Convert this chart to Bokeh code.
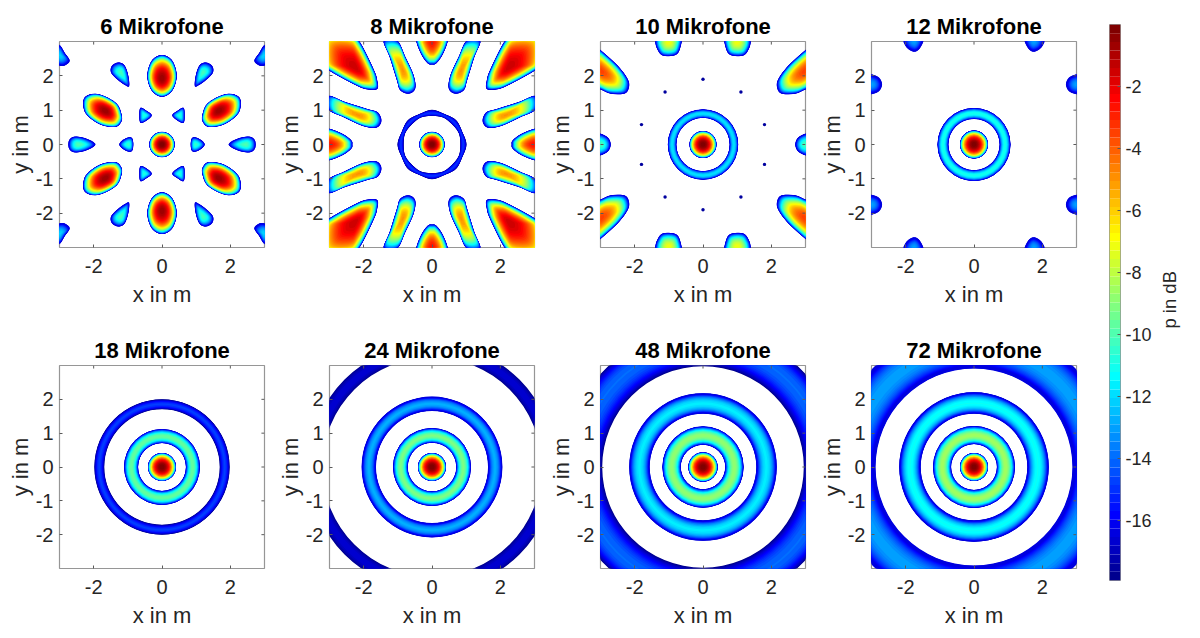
import numpy as np
from bokeh.core.properties import value
from bokeh.embed import file_html
from bokeh.layouts import column, row
from bokeh.models import ColumnDataSource, FixedTicker, LinearColorMapper, Range1d
from bokeh.plotting import figure
from bokeh.resources import INLINE

FONT = "Liberation Sans"
TITLES = ["6 Mikrofone", "8 Mikrofone", "10 Mikrofone", "12 Mikrofone",
          "18 Mikrofone", "24 Mikrofone", "48 Mikrofone", "72 Mikrofone"]
X_TICKS = [-2, 0, 2]
Y_TICKS = [-2, -1, 0, 1, 2]
CBAR_TICKS = [-2, -4, -6, -8, -10, -12, -14, -16]
CBAR_LABEL = "p in dB"
DB_MIN = -17.93
DB_MAX = 0.0

# rings: inner radius, radius of the peak, outer radius, peak in dB
RINGS_6 = [(0, 0, 0.37, 0.0)]
RINGS_8 = [(0, 0, 0.37, 0.0)]
RINGS_10 = [(0, 0, 0.395, 0.0), (0.78, 0.905, 1.03, -11.8)]
RINGS_12 = [(0, 0, 0.41, 0.0), (0.75, 0.91, 1.07, -11.0)]
RINGS_18 = [(0, 0, 0.41, 0.0), (0.70, 0.90, 1.11, -9.6), (1.69, 1.84, 1.98, -14.8)]
RINGS_24 = [(0, 0, 0.41, 0.0), (0.71, 0.92, 1.14, -9.2), (1.64, 1.85, 2.06, -12.8), (3.21, 3.41, 3.62, -16.6)]
RINGS_48 = [(0, 0, 0.43, 0.0), (0.65, 0.92, 1.19, -8.8), (1.56, 1.86, 2.16, -11.7), (2.95, 3.55, 4.05, -14.0)]
RINGS_72 = [(0, 0, 0.41, 0.0), (0.67, 0.93, 1.20, -8.5), (1.56, 1.87, 2.19, -11.2), (2.88, 3.50, 4.14, -13.0)]

# the octagon-shaped ring of the 8 microphone panel: radii every 22.5 degrees
OCT_OUTER_8 = [1.01, 0.96, 1.00, 0.96, 1.01, 0.96, 1.00, 0.96, 1.01, 0.96, 1.00, 0.96, 1.01, 0.96, 1.00, 0.96]
OCT_INNER_8 = [0.83, 0.85, 0.83, 0.85, 0.83, 0.85, 0.83, 0.85, 0.83, 0.85, 0.83, 0.85, 0.83, 0.85, 0.83, 0.85]
OCT_PEAK_R_8 = 0.91
OCT_PEAK_DB_8 = -15.0

# lobes in the first quadrant: peak x, peak y, peak in dB, closed outline at the lowest level
LOBES_6 = [
    (0.0, 1.92, -0.6, [(0, 2.61), (.3, 2.44), (.43, 2.0), (.3, 1.57), (0, 1.39), (-.3, 1.57), (-.43, 2.0), (-.3, 2.44)]),
    (1.65, 0.98, -0.6, [(1.18, .85), (1.33, 1.19), (1.77, 1.44), (2.11, 1.46), (2.30, 1.29), (2.23, .9), (1.82, .59), (1.38, .51), (1.2, .65)]),
    (1.2, 2.1, -10.2, [(.96, 1.7), (.99, 2.02), (1.1, 2.31), (1.28, 2.39), (1.47, 2.29), (1.49, 2.09), (1.28, 1.87), (1.08, 1.73)]),
    (0.52, 0.85, -10.8, [(.3, .85), (.45, .98), (.63, 1.07), (.66, .85), (.63, .63), (.45, .7)]),
    (0.98, 0.0, -10.5, [(1.25, 0), (1.08, .17), (.89, .2), (.84, 0), (.89, -.2), (1.08, -.17)]),
    (2.45, 0.0, -10.0, [(1.95, 0), (2.21, .17), (2.55, .23), (2.72, .12), (2.72, -.12), (2.55, -.23), (2.21, -.17)]),
    (3.0, 2.6, -12.0, [(3, 2.9), (2.84, 2.66), (2.7, 2.44), (2.84, 2.3), (3, 2.29), (3.2, 2.3), (3.2, 2.9)]),
]
LOBES_8 = [
    (2.26, 2.26, -1.5, [(1.6, 1.62), (1.6, 1.85), (1.7, 2.17), (2.12, 3.0), (2.5, 3.4), (3.35, 3.35), (3.4, 2.5), (3.0, 2.15), (2.17, 1.7), (1.85, 1.6)]),
    (0.0, 3.0, -2.6, [(.46, 3.0), (.3, 2.6), (.12, 2.36), (0, 2.33), (-.12, 2.36), (-.3, 2.6), (-.46, 3.0), (-.5, 3.4), (.5, 3.4)]),
    (3.0, 0.0, -2.6, [(3.0, .46), (2.6, .3), (2.36, .12), (2.33, 0), (2.36, -.12), (2.6, -.3), (3.0, -.46), (3.4, -.5), (3.4, .5)]),
    (0.85, 2.15, -5.0, [(.68, 1.48), (.49, 1.63), (.54, 2.02), (.78, 2.55), (1.03, 3.05), (1.42, 3.05), (1.24, 2.55), (1.03, 1.88), (.93, 1.58)]),
    (2.15, 0.85, -5.0, [(1.48, .68), (1.63, .49), (2.02, .54), (2.55, .78), (3.05, 1.03), (3.05, 1.42), (2.55, 1.24), (1.88, 1.03), (1.58, .93)]),
]
LOBES_10 = [
    (3.0, 2.15, -3.5, [(3, 1.6), (2.7, 1.48), (2.3, 1.48), (2.17, 1.65), (2.2, 1.9), (2.5, 2.3), (3, 2.75), (3.2, 2.9), (3.2, 1.6)]),
    (1.0, 3.0, -7.0, [(.62, 3), (.72, 2.68), (.9, 2.58), (1.2, 2.6), (1.35, 2.8), (1.4, 3), (1.4, 3.15), (.62, 3.15)]),
    (3.0, 0.0, -10.0, [(2.7, 0), (2.78, .2), (3, .32), (3.1, .32), (3.1, -.32), (3, -.32), (2.78, -.2)]),
]
LOBES_12 = [
    (1.75, 3.0, -13.0, [(1.48, 3), (1.6, 2.78), (1.75, 2.7), (1.95, 2.8), (2.07, 3), (2.07, 3.1), (1.48, 3.1)]),
    (3.0, 1.75, -13.0, [(2.69, 1.75), (2.78, 1.95), (3, 2.05), (3.1, 2.05), (3.1, 1.46), (3, 1.46), (2.78, 1.55)]),
]
# isolated dots of the 10 microphone panel: x, y, in the first quadrant
DOTS_10 = [(0.0, 1.9), (1.11, 1.53), (1.8, 0.58)]

ALL_RINGS = [RINGS_6, RINGS_8, RINGS_10, RINGS_12, RINGS_18, RINGS_24, RINGS_48, RINGS_72]
ALL_LOBES = [LOBES_6, LOBES_8, LOBES_10, LOBES_12, [], [], [], []]


def jet64():
    cols = []
    for i in range(64):
        g = (i + 1) / 64
        r = np.clip(min(4 * g - 1.5, -4 * g + 4.5), 0, 1)
        gr = np.clip(min(4 * g - 0.5, -4 * g + 3.5), 0, 1)
        b = np.clip(min(4 * g + 0.5, -4 * g + 2.5), 0, 1)
        cols.append("#%02x%02x%02x" % (round(r * 255), round(gr * 255), round(b * 255)))
    return cols


PALETTE = jet64()
EDGES = np.linspace(DB_MIN, DB_MAX, len(PALETTE) + 1)
MAPPER = LinearColorMapper(palette=PALETTE, low=DB_MIN, high=DB_MAX)
FILL = {"field": "db", "transform": MAPPER}
GREY = "#969696"
TICK_LEN = 0.09
RIM_DB = -16.3  # strong lobes have a thin, lighter blue rim in the reference


def spread(level, peak):
    """Share of a lobe's half width that lies above `level`, for a lobe that peaks at `peak`."""
    amp = 10 ** ((level - peak) / 20)
    floor = 10 ** ((DB_MIN - peak) / 20)
    return np.arccos(min(amp, 1.0)) / np.arccos(floor)


def shade(k, peak):
    mid = (EDGES[k] + EDGES[k + 1]) / 2
    return max(mid, RIM_DB) if peak > -14 else mid


def smooth(points):
    pts = np.array(points, dtype=float)
    out = []
    n = len(pts)
    for i in range(n):
        p0, p1, p2, p3 = pts[i - 1], pts[i], pts[(i + 1) % n], pts[(i + 2) % n]
        for u in np.linspace(0, 1, 6, endpoint=False):
            out.append(0.5 * (2 * p1 + (p2 - p0) * u + (2 * p0 - 5 * p1 + 4 * p2 - p3) * u ** 2
                              + (3 * p1 - p0 - 3 * p2 + p3) * u ** 3))
    return np.array(out)


def mirrors(px, py):
    res = []
    for sx in (1, -1):
        for sy in (1, -1):
            if (sx == -1 and px == 0) or (sy == -1 and py == 0):
                continue
            res.append((sx, sy))
    return res


def radial_outline(radii):
    ang = np.linspace(0, 2 * np.pi, len(radii), endpoint=False)
    return smooth(list(zip(np.array(radii) * np.cos(ang), np.array(radii) * np.sin(ang))))


def style_axes(p):
    p.xgrid.visible = False
    p.ygrid.visible = False
    p.outline_line_color = GREY
    p.outline_line_width = 1.2
    p.background_fill_color = "white"
    p.border_fill_color = "white"
    for ax, ticks in ((p.below[0], X_TICKS), (p.left[0], Y_TICKS)):
        ax.ticker = FixedTicker(ticks=ticks)
        ax.major_label_overrides = {t: str(t) for t in ticks}
        ax.axis_line_color = None
        ax.major_tick_in = 3
        ax.major_tick_out = 0
        ax.minor_tick_line_color = None
        ax.major_tick_line_color = "#5a5a5a"
        ax.major_label_text_font = FONT
        ax.major_label_text_font_size = "20px"
        ax.major_label_text_color = "#262626"
        ax.axis_label_text_font = FONT
        ax.axis_label_text_font_size = "22px"
        ax.axis_label_text_font_style = "normal"
        ax.axis_label_text_color = "#262626"
        ax.major_label_orientation = "horizontal"
    p.below[0].major_label_standoff = 11
    p.below[0].axis_label_standoff = 6
    p.left[0].major_label_standoff = 6
    p.left[0].axis_label_standoff = 0
    # mirrored ticks on the top and right sides of the box
    p.segment(x0=X_TICKS, x1=X_TICKS, y0=[3] * len(X_TICKS), y1=[3 - TICK_LEN] * len(X_TICKS), line_color="#5a5a5a")
    p.segment(x0=[3] * len(Y_TICKS), x1=[3 - TICK_LEN] * len(Y_TICKS), y0=Y_TICKS, y1=Y_TICKS, line_color="#5a5a5a")
    p.title.text_font = FONT
    p.title.text_font_size = "22px"
    p.title.text_font_style = "bold"
    p.title.text_color = "black"
    p.title.align = "center"
    p.title.standoff = 6


def panel(i, width, left, right, height, top, bottom):
    p = figure(width=width, height=height, title=TITLES[i], x_range=Range1d(-3, 3), y_range=Range1d(-3, 3),
               output_backend="svg", toolbar_location=None, tools="",
               min_border_left=left, min_border_right=right, min_border_top=top, min_border_bottom=bottom,
               x_axis_label="x in m", y_axis_label="y in m")

    # rings, from the lowest level upwards
    rx = dict(inner=[], outer=[], db=[])
    for r_in, r_pk, r_out, peak in ALL_RINGS[i]:
        for k in range(len(PALETTE)):
            if EDGES[k] >= peak:
                break
            t = spread(EDGES[k], peak)
            rx["inner"].append(max(r_pk - t * (r_pk - r_in), 0))
            rx["outer"].append(r_pk + t * (r_out - r_pk))
            rx["db"].append(shade(k, peak))
    src = ColumnDataSource(dict(x=[0] * len(rx["db"]), y=[0] * len(rx["db"]), **rx))
    p.annulus(x="x", y="y", inner_radius="inner", outer_radius="outer", source=src, fill_color=FILL, line_color=None)

    # the octagon ring
    if i == 1:
        outer = radial_outline(OCT_OUTER_8)
        inner = radial_outline(OCT_INNER_8)
        unit = outer / np.linalg.norm(outer, axis=1, keepdims=True)
        xs, ys, db = [], [], []
        for k in range(len(PALETTE)):
            if EDGES[k] >= OCT_PEAK_DB_8:
                break
            t = spread(EDGES[k], OCT_PEAK_DB_8)
            o = OCT_PEAK_R_8 * unit + t * (outer - OCT_PEAK_R_8 * unit)
            n = OCT_PEAK_R_8 * unit + t * (inner - OCT_PEAK_R_8 * unit)
            xs.append([[list(o[:, 0]), list(n[:, 0])]])
            ys.append([[list(o[:, 1]), list(n[:, 1])]])
            db.append((EDGES[k] + EDGES[k + 1]) / 2)
        p.multi_polygons(xs="xs", ys="ys", source=ColumnDataSource(dict(xs=xs, ys=ys, db=db)), fill_color=FILL,
                         line_color=None)

    # lobes
    xs, ys, db = [], [], []
    for px, py, peak, outline in ALL_LOBES[i]:
        shape = smooth(outline)
        for sx, sy in mirrors(px, py):
            for k in range(len(PALETTE)):
                if EDGES[k] >= peak:
                    break
                t = spread(EDGES[k], peak)
                xs.append(list(sx * (px + t * (shape[:, 0] - px))))
                ys.append(list(sy * (py + t * (shape[:, 1] - py))))
                db.append(shade(k, peak))
    if xs:
        p.patches(xs="xs", ys="ys", source=ColumnDataSource(dict(xs=xs, ys=ys, db=db)), fill_color=FILL,
                  line_color=None)
    if i == 2:
        dx, dy = [], []
        for x0, y0 in DOTS_10:
            for sx, sy in mirrors(x0, y0):
                dx.append(sx * x0)
                dy.append(sy * y0)
        p.circle(x=dx, y=dy, radius=0.05, fill_color=PALETTE[1], line_color=None)
    style_axes(p)
    return p


WIDTHS = [273, 271, 271, 275]
LEFTS = [59, 56, 56, 56]
row1 = [panel(i, WIDTHS[i], LEFTS[i], WIDTHS[i] - LEFTS[i] - 205, 331, 41, 84) for i in range(4)]
row2 = [panel(i + 4, WIDTHS[i], LEFTS[i], WIDTHS[i] - LEFTS[i] - 205, 299, 34, 60) for i in range(4)]

cb = figure(width=66, height=622, x_range=Range1d(0, 1), y_range=Range1d(DB_MIN, DB_MAX),
            output_backend="svg", toolbar_location=None, tools="", y_axis_location="right",
            min_border_left=19, min_border_right=36, min_border_top=24, min_border_bottom=42)
cb.quad(left=0, right=1, bottom=list(EDGES[:-1]), top=list(EDGES[1:]), fill_color=PALETTE, line_color=None)
cb.xaxis.visible = False
cb.xgrid.visible = False
cb.ygrid.visible = False
cb.outline_line_color = GREY
ya = cb.yaxis[0]
ya.ticker = FixedTicker(ticks=CBAR_TICKS)
ya.major_label_overrides = {t: str(t) for t in CBAR_TICKS}
ya.axis_line_color = None
ya.major_tick_in = 3
ya.major_tick_out = 0
ya.minor_tick_line_color = None
ya.major_tick_line_color = "#5a5a5a"
ya.major_label_standoff = 5
ya.major_label_text_font = FONT
ya.major_label_text_font_size = "18px"
ya.major_label_text_color = "#262626"
ya.major_label_orientation = "horizontal"

# the colour bar's title, which reads upwards like the panels' y labels
lab = figure(width=34, height=622, x_range=Range1d(0, 34), y_range=Range1d(622, 0),
             output_backend="svg", toolbar_location=None, tools="",
             min_border_left=0, min_border_right=0, min_border_top=0, min_border_bottom=0)
lab.xaxis.visible = False
lab.yaxis.visible = False
lab.xgrid.visible = False
lab.ygrid.visible = False
lab.outline_line_color = None
lab.text(x=[13], y=[308], text=[CBAR_LABEL], angle=np.pi / 2, text_font=value(FONT), text_font_size="18.5px",
         text_color="#262626", text_align="center", text_baseline="middle")

page = row(column(row(*row1), row(*row2)), cb, lab)
open("out.html", "w").write(file_html(page, INLINE))
